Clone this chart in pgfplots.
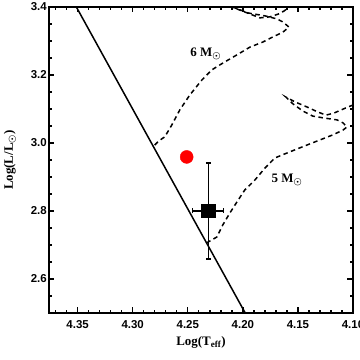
\documentclass[border=0pt]{standalone}
\usepackage{amsmath}
\usepackage{fontspec}
\setmainfont{Liberation Serif}
\newfontfamily\ticksans{Liberation Sans}
\usepackage{pgfplots}
\pgfplotsset{compat=1.18}
\begin{document}
\begin{tikzpicture}
\begin{axis}[
  scale only axis, width=304bp, height=306bp,
  x dir=reverse, xmin=4.10, xmax=4.376, ymin=2.5, ymax=3.4,
  xtick={4.10,4.15,4.20,4.25,4.30,4.35},
  ytick={2.6,2.8,3.0,3.2,3.4},
  minor xtick={4.11,4.12,4.13,4.14,4.16,4.17,4.18,4.19,4.21,4.22,4.23,4.24,
    4.26,4.27,4.28,4.29,4.31,4.32,4.33,4.34,4.36,4.37},
  minor ytick={2.55,2.65,2.7,2.75,2.85,2.9,2.95,3.05,3.1,3.15,3.25,3.3,3.35},
  major tick length=5.5bp, minor tick length=3bp,
  every tick/.style={black, line width=1.4bp},
  axis line style={line width=1.7bp},
  /pgf/number format/assume math mode=true,
  tick label style={font=\ticksans\bfseries\fontsize{11.5}{13}\selectfont},
  xticklabel style={yshift=-4bp, /pgf/number format/.cd, fixed, fixed zerofill, precision=2},
  yticklabel style={inner sep=2bp, /pgf/number format/.cd, fixed, fixed zerofill, precision=1},
  xlabel={\bfseries Log(T$_{\mathbf{eff}}$)},
  ylabel={\bfseries Log(L/L$_{\boldsymbol\odot}$)},
  label style={font=\fontsize{13}{15}\selectfont},
  xlabel style={at={(axis description cs:0.5,0)}, yshift=-29bp, anchor=center},
  ylabel style={at={(axis description cs:0,0.5)}, yshift=39bp, anchor=center},
  trk/.style={black, line width=1.5bp, dash pattern=on 4.5bp off 3.5bp, no marks},
]
% 6 Msun track
\addplot[trk] coordinates {
  (4.280,2.994) (4.2764,3.006) (4.2709,3.018) (4.2645,3.053) (4.2573,3.097)
  (4.2482,3.141) (4.2373,3.185) (4.2282,3.215) (4.2182,3.235) (4.2055,3.259)
  (4.1936,3.282) (4.1818,3.297) (4.1727,3.312) (4.1636,3.326) (4.1582,3.341)
  (4.1636,3.356) (4.1691,3.365) (4.1800,3.374) (4.1945,3.382) (4.2045,3.394)
  (4.2118,3.403) (4.2155,3.409) (4.2100,3.400) (4.1980,3.385) (4.1845,3.368)
  (4.1755,3.371) (4.1680,3.379) (4.1627,3.388) (4.1564,3.403) (4.1520,3.415)
};
% 5 Msun track
\addplot[trk] coordinates {
  (4.233,2.706) (4.2236,2.7235) (4.2182,2.759) (4.2118,2.794) (4.2055,2.826)
  (4.1982,2.862) (4.1891,2.891) (4.1800,2.926) (4.1709,2.956) (4.1573,2.974)
  (4.1418,2.994) (4.1300,3.009) (4.1182,3.024) (4.1091,3.038) (4.1055,3.047)
  (4.1090,3.059) (4.1145,3.068) (4.1273,3.074) (4.1364,3.079) (4.1455,3.094)
  (4.1545,3.115) (4.1609,3.135) (4.1527,3.121) (4.1418,3.106) (4.1318,3.091)
  (4.1245,3.082) (4.1173,3.088) (4.1109,3.097) (4.1045,3.106) (4.0973,3.115)
};
% solid line
\addplot[black, line width=1.5bp, no marks] coordinates {(4.352,3.405) (4.197,2.495)};
% red point
\addplot[only marks, mark=*, mark size=6.5bp, red, mark options={draw=red, fill=red}]
  coordinates {(4.251,2.959)};
% black square with error bars
\addplot[only marks, mark=square*, mark size=6.5bp, black, line width=1.5bp,
  error bars/.cd, x dir=both, x explicit, y dir=both, y explicit,
  error bar style={line width=1.5bp},
  error mark options={rotate=90, mark size=2.5bp, line width=1.2bp}]
  coordinates {(4.2314,2.80) +- (0.014,0.141)};
\node[font=\bfseries\fontsize{13}{15}\selectfont] at (axis cs:4.2336,3.262) {6 M$_{\boldsymbol\odot}$};
\node[font=\bfseries\fontsize{13}{15}\selectfont] at (axis cs:4.160,2.891) {5 M$_{\boldsymbol\odot}$};
\coordinate (bl) at (rel axis cs:0,0);
\coordinate (tr) at (rel axis cs:1,1);
\end{axis}
\pgfresetboundingbox
\path ([shift={(-49bp,-47bp)}]bl) rectangle ([shift={(7bp,7bp)}]tr);
\end{tikzpicture}
\end{document}
